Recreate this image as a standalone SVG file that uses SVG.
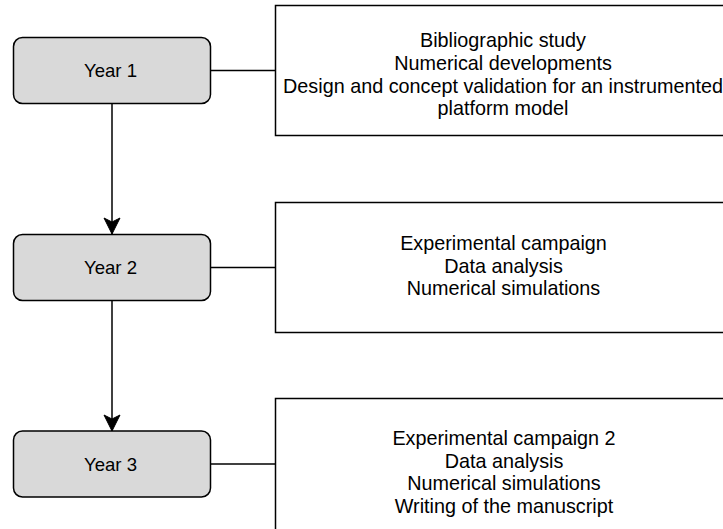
<svg xmlns="http://www.w3.org/2000/svg" width="723" height="529" viewBox="0 0 723 529">
<style>
.year{fill:#d9d9d9;stroke:#000;stroke-width:1.5}
.box{fill:#fff;stroke:#000;stroke-width:1.5}
.edge{fill:none;stroke:#000;stroke-width:1.5}
.t1{font-family:"Liberation Sans",Arial,sans-serif;font-size:18.6px;fill:#000;text-anchor:middle}
.t2{font-family:"Liberation Sans",Arial,sans-serif;font-size:19.8px;fill:#000;text-anchor:middle}
</style>
<defs>
<marker id="arr" markerUnits="userSpaceOnUse" markerWidth="18" markerHeight="18" viewBox="0 0 18 18" refX="17" refY="9" orient="auto">
<path d="M1,1 L17,9 L1,17 L5,9 Z" fill="#000" stroke="#000" stroke-width="1"/>
</marker>
</defs>
<rect width="723" height="529" fill="#fff"/>
<g id="connectors">
<line class="edge" x1="112" y1="103.5" x2="112" y2="234" marker-end="url(#arr)"/>
<line class="edge" x1="112" y1="300.5" x2="112" y2="431" marker-end="url(#arr)"/>
<line class="edge" x1="210.5" y1="70.5" x2="275.5" y2="70.5"/>
<line class="edge" x1="210.5" y1="267.5" x2="275.5" y2="267.5"/>
<line class="edge" x1="210.5" y1="464" x2="275.5" y2="464"/>
</g>
<g id="year1">
<rect class="year" x="13.5" y="37.5" width="197" height="66" rx="9"/>
<text class="t1" x="110.5" y="77">Year 1</text>
</g>
<g id="year2">
<rect class="year" x="13.5" y="234.5" width="197" height="66" rx="9"/>
<text class="t1" x="110.5" y="274">Year 2</text>
</g>
<g id="year3">
<rect class="year" x="13.5" y="431" width="197" height="66" rx="9"/>
<text class="t1" x="110.5" y="470.5">Year 3</text>
</g>
<g id="tasks1">
<rect class="box" x="275.5" y="5.5" width="457" height="130"/>
<text class="t2" x="503" y="47.3">Bibliographic study</text>
<text class="t2" x="503" y="70">Numerical developments</text>
<text class="t2" x="503" y="92.7">Design and concept validation for an instrumented</text>
<text class="t2" x="503" y="115.3">platform model</text>
</g>
<g id="tasks2">
<rect class="box" x="275.5" y="202.5" width="457" height="130"/>
<text class="t2" x="503.5" y="250">Experimental campaign</text>
<text class="t2" x="503.5" y="272.7">Data analysis</text>
<text class="t2" x="503.5" y="295.3">Numerical simulations</text>
</g>
<g id="tasks3">
<rect class="box" x="275.5" y="398.5" width="457" height="140"/>
<text class="t2" x="504" y="445">Experimental campaign 2</text>
<text class="t2" x="504" y="467.5">Data analysis</text>
<text class="t2" x="504" y="490">Numerical simulations</text>
<text class="t2" x="504" y="512.5">Writing of the manuscript</text>
</g>
</svg>
